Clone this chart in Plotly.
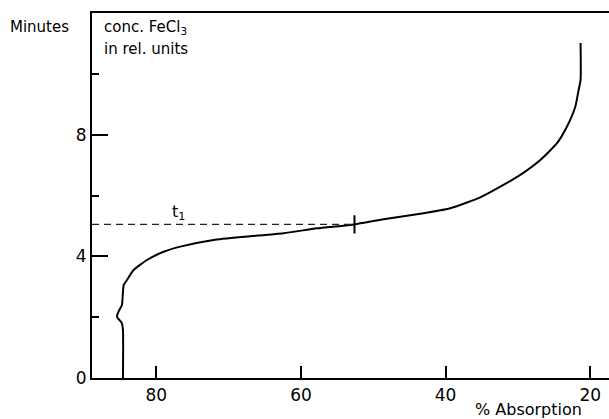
import plotly.graph_objects as go

# Curve: % Absorption vs time (minutes)
absorption = [84.62, 84.62, 84.79, 85.45, 85.2, 84.76, 84.62, 84.51, 84.07, 83.15,
              81.30, 79.00, 76.69, 72.09, 67.47, 62.41, 57.79, 52.59, 48.58, 43.96,
              39.35, 35.20, 32.43, 29.67, 26.90, 24.59, 23.21, 22.06, 21.60, 21.33, 21.33]
minutes = [0.0, 1.58, 1.81, 2.02, 2.20, 2.40, 2.84, 3.06, 3.22, 3.55,
           3.88, 4.15, 4.32, 4.54, 4.65, 4.76, 4.92, 5.05, 5.22, 5.38,
           5.58, 5.94, 6.29, 6.68, 7.17, 7.72, 8.27, 8.92, 9.47, 9.80, 11.01]

t1_time = 5.05
t1_absorption = 52.6
t1_mark_half = 0.3

x_range = [88.9, 17.4]
y_range = [0, 12]
x_ticks = [80, 60, 40, 20]
y_ticks = [0, 4, 8]
y_minor_ticks = [2, 6, 10]

FONT = "DejaVu Sans"

fig = go.Figure()
fig.add_trace(go.Scatter(x=absorption, y=minutes, mode="lines",
                         line=dict(color="black", width=2, shape="spline", smoothing=0.5),
                         hoverinfo="skip", showlegend=False))
fig.add_trace(go.Scatter(x=[x_range[0], t1_absorption], y=[t1_time, t1_time], mode="lines",
                         line=dict(color="#222", width=1.3, dash="7px,5px"),
                         showlegend=False, hoverinfo="skip"))
fig.add_trace(go.Scatter(x=[t1_absorption, t1_absorption],
                         y=[t1_time - t1_mark_half, t1_time + t1_mark_half], mode="lines",
                         line=dict(color="black", width=2), showlegend=False, hoverinfo="skip"))

fig.update_layout(
    width=609, height=419,
    margin=dict(l=92, r=0, t=13, b=41),
    plot_bgcolor="white", paper_bgcolor="white",
    font=dict(family=FONT, size=16, color="black"),
    xaxis=dict(range=x_range, tickvals=x_ticks, ticktext=[str(v) for v in x_ticks],
               ticks="inside", ticklen=12, tickwidth=1.5, tickcolor="black",
               showline=True, linecolor="black", linewidth=2, mirror=True,
               showgrid=False, zeroline=False, ticklabelstandoff=1,
               tickfont=dict(family=FONT, size=17, color="black")),
    yaxis=dict(range=y_range, tickvals=y_ticks, ticktext=[str(v) for v in y_ticks],
               ticks="inside", ticklen=16, tickwidth=1.5, tickcolor="black",
               showline=True, linecolor="black", linewidth=2, mirror=False,
               showgrid=False, zeroline=False, ticklabelstandoff=0,
               minor=dict(tickvals=y_minor_ticks, ticks="inside", ticklen=7,
                          tickwidth=1.5, tickcolor="black", showgrid=False),
               tickfont=dict(family=FONT, size=17, color="black")),
)

fig.add_annotation(text="Minutes", xref="paper", yref="paper", x=-0.1625, y=0.9616,
                   xanchor="left", yanchor="middle", showarrow=False,
                   font=dict(family=FONT, size=15, color="black"))
fig.add_annotation(text="conc. FeCl<sub>3</sub>", xref="paper", yref="paper", x=0.0193, y=0.9616,
                   xanchor="left", yanchor="middle", showarrow=False,
                   font=dict(family=FONT, size=15, color="black"))
fig.add_annotation(text="in rel. units", xref="paper", yref="paper", x=0.0193, y=0.9014,
                   xanchor="left", yanchor="middle", showarrow=False,
                   font=dict(family=FONT, size=15, color="black"))
fig.add_annotation(text="% Absorption", xref="paper", yref="paper", x=0.845, y=-0.085,
                   xanchor="center", yanchor="middle", showarrow=False,
                   font=dict(family=FONT, size=16, color="black"))
fig.add_annotation(text="t<sub>1</sub>", xref="x", yref="y", x=77.0, y=5.43,
                   xanchor="center", yanchor="middle", showarrow=False,
                   font=dict(family=FONT, size=16, color="black"))

fig.write_html("out.html", config={"displayModeBar": False},
               post_script="document.body.style.margin='0';document.body.style.overflow='hidden';")
